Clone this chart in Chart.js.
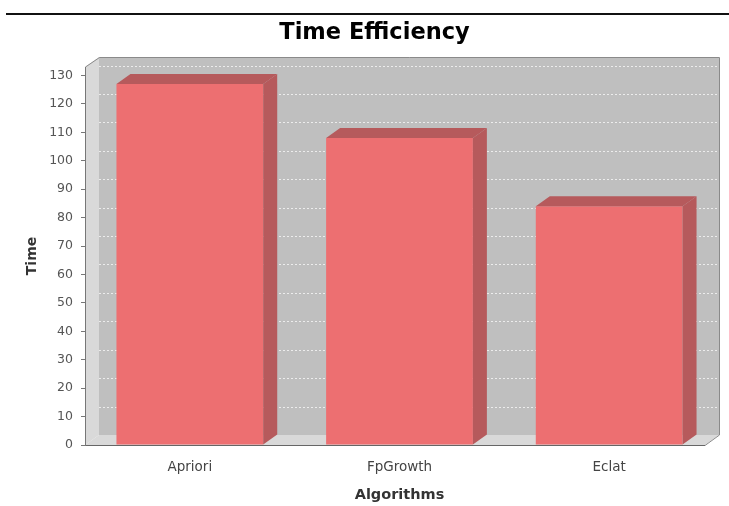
<!DOCTYPE html>
<html>
<head>
<meta charset="utf-8">
<title>Time Efficiency</title>
<script src="https://cdn.jsdelivr.net/npm/chart.js@4/dist/chart.umd.min.js"></script>
<style>
  html, body { margin: 0; padding: 0; background: #ffffff; }
  #chart { display: block; }
</style>
</head>
<body>
<canvas id="chart" width="729" height="506"></canvas>
<script>
// Data
const algorithms = ['Apriori', 'FpGrowth', 'Eclat'];
const timeValues = [127, 108, 84];
const timeAxisMax = 133;
const timeTickStep = 10;

// 3D look: depth offset of walls and bar faces
const DEPTH_X = 14;
const DEPTH_Y = 10;

const wallPlugin = {
  id: 'wall3d',
  beforeDraw(chart) {
    const ctx = chart.ctx;
    const { left: L, top: T, bottom: B, right: R } = chart.chartArea;
    const Rf = R - 9;
    const yScale = chart.scales.y;

    ctx.save();
    // rule across the top of the chart
    ctx.strokeStyle = '#111';
    ctx.lineWidth = 2;
    ctx.beginPath();
    ctx.moveTo(6, 14);
    ctx.lineTo(chart.width, 14);
    ctx.stroke();

    // back wall
    ctx.fillStyle = '#bfbfbf';
    ctx.fillRect(L + DEPTH_X, T - DEPTH_Y, Rf - L, B - T);

    // left side wall
    ctx.fillStyle = '#d9d9d9';
    ctx.beginPath();
    ctx.moveTo(L, T);
    ctx.lineTo(L + DEPTH_X, T - DEPTH_Y);
    ctx.lineTo(L + DEPTH_X, B - DEPTH_Y);
    ctx.lineTo(L, B);
    ctx.closePath();
    ctx.fill();

    // floor
    ctx.beginPath();
    ctx.moveTo(L, B);
    ctx.lineTo(L + DEPTH_X, B - DEPTH_Y);
    ctx.lineTo(Rf + DEPTH_X, B - DEPTH_Y);
    ctx.lineTo(Rf, B);
    ctx.closePath();
    ctx.fill();

    // dashed gridlines on the back wall
    ctx.strokeStyle = 'rgba(255,255,255,0.7)';
    ctx.lineWidth = 1;
    ctx.setLineDash([2, 2]);
    yScale.ticks.forEach(t => {
      if (t.value === 0) return;
      const y = Math.round(yScale.getPixelForValue(t.value) - DEPTH_Y) + 0.5;
      ctx.beginPath();
      ctx.moveTo(L + DEPTH_X, y);
      ctx.lineTo(Rf + DEPTH_X, y);
      ctx.stroke();
    });
    ctx.setLineDash([]);

    // outline of the plot box
    ctx.strokeStyle = '#8a8a8a';
    ctx.beginPath();
    ctx.moveTo(L + 0.5, T);
    ctx.lineTo(L + DEPTH_X + 0.5, T - DEPTH_Y + 0.5);
    ctx.lineTo(Rf + DEPTH_X + 0.5, T - DEPTH_Y + 0.5);
    ctx.lineTo(Rf + DEPTH_X + 0.5, B - DEPTH_Y);
    ctx.lineTo(Rf, B + 0.5);
    ctx.stroke();
    ctx.strokeStyle = '#666';
    ctx.beginPath();
    ctx.moveTo(L, B + 0.5);
    ctx.lineTo(Rf, B + 0.5);
    ctx.stroke();
    ctx.restore();
  },
  afterDatasetsDraw(chart) {
    const ctx = chart.ctx;
    const meta = chart.getDatasetMeta(0);
    ctx.save();
    ctx.fillStyle = '#b65a5c';
    meta.data.forEach(bar => {
      const { x, y, base, width } = bar.getProps(['x', 'y', 'base', 'width'], true);
      const x0 = x - width / 2;
      const x1 = x + width / 2;
      // top face
      ctx.beginPath();
      ctx.moveTo(x0, y);
      ctx.lineTo(x0 + DEPTH_X, y - DEPTH_Y);
      ctx.lineTo(x1 + DEPTH_X, y - DEPTH_Y);
      ctx.lineTo(x1, y);
      ctx.closePath();
      ctx.fill();
      // right side face
      ctx.beginPath();
      ctx.moveTo(x1, y);
      ctx.lineTo(x1 + DEPTH_X, y - DEPTH_Y);
      ctx.lineTo(x1 + DEPTH_X, base - DEPTH_Y);
      ctx.lineTo(x1, base);
      ctx.closePath();
      ctx.fill();
    });
    ctx.restore();
  }
};

new Chart(document.getElementById('chart'), {
  type: 'bar',
  data: {
    labels: algorithms,
    datasets: [{
      label: 'Time',
      data: timeValues,
      backgroundColor: '#ed6f71',
      borderWidth: 0,
      categoryPercentage: 0.7,
      barPercentage: 1.0
    }]
  },
  options: {
    responsive: false,
    animation: false,
    devicePixelRatio: 1,
    layout: { padding: { left: 35, right: 15, top: 0, bottom: 0 } },
    plugins: {
      legend: { display: false },
      tooltip: { enabled: false },
      title: {
        display: true,
        text: 'Time Efficiency',
        color: '#000',
        font: { family: 'DejaVu Sans', weight: 'bold', size: 22.5 },
        padding: { top: 20, bottom: 20 }
      }
    },
    scales: {
      x: {
        afterFit(scale) { scale.height = 61; },
        grid: { display: false, drawTicks: false },
        border: { display: false },
        ticks: {
          color: '#444',
          padding: 14,
          font: { family: 'DejaVu Sans', size: 13.5 }
        },
        title: {
          display: true,
          text: 'Algorithms',
          color: '#333',
          font: { family: 'DejaVu Sans', weight: 'bold', size: 14.5 },
          padding: { top: 0, bottom: 2 }
        }
      },
      y: {
        min: 0,
        max: timeAxisMax,
        afterFit(scale) { scale.width = 50; },
        grid: { drawOnChartArea: false, drawTicks: true, tickLength: 4, color: '#777' },
        border: { display: true, color: '#777', width: 1 },
        ticks: {
          stepSize: timeTickStep,
          includeBounds: false,
          color: '#555',
          padding: 8,
          font: { family: 'DejaVu Sans', size: 12.5 }
        },
        title: {
          display: true,
          text: 'Time',
          color: '#333',
          font: { family: 'DejaVu Sans', weight: 'bold', size: 14 },
          padding: { top: -11, bottom: 0 }
        }
      }
    }
  },
  plugins: [wallPlugin]
});
</script>
</body>
</html>
